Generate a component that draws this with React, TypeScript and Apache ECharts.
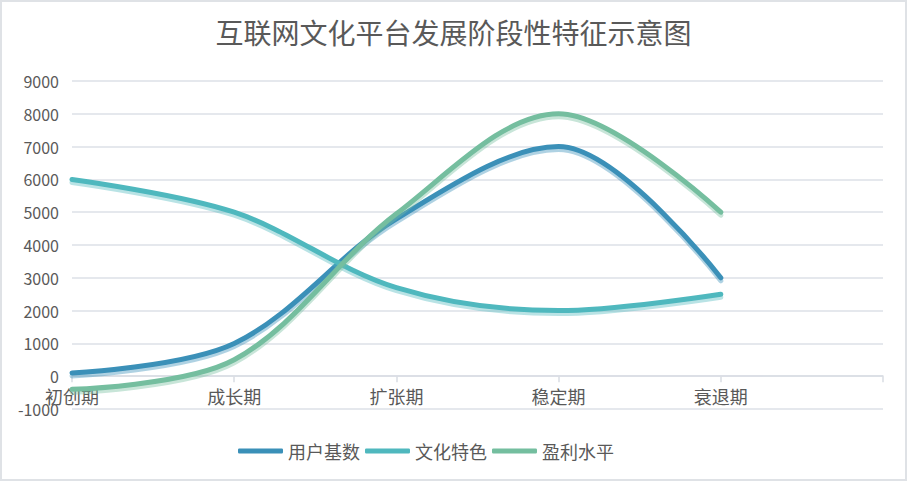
import React, { useEffect, useRef } from "react";
import * as echarts from "echarts";

const categories = ["初创期", "成长期", "扩张期", "稳定期", "衰退期", ""];
const userBase = [100, 1000, 4800, 7000, 3000];
const cultureFeature = [6000, 5000, 2700, 2000, 2500];
const profitLevel = [-400, 500, 4950, 8000, 5000];
const seriesNames = ["用户基数", "文化特色", "盈利水平"];
const yMin = -1000;
const yMax = 9000;
const yInterval = 1000;

const colors = ["#3a90b8", "#4fb8be", "#74be9f"];
const shadows = ["rgba(58,144,184,0.40)", "rgba(79,184,190,0.40)", "rgba(116,190,159,0.40)"];

export default function App() {
  const ref = useRef<HTMLDivElement>(null);
  useEffect(() => {
    document.body.style.margin = "0";
    const chart = echarts.init(ref.current!, null, { renderer: "svg" });
    const font = "'Noto Sans CJK SC', 'Noto Sans', sans-serif";
    const data = [userBase, cultureFeature, profitLevel];
    chart.setOption({
      animation: false,
      textStyle: { fontFamily: font },
      title: {
        text: "互联网文化平台发展阶段性特征示意图",
        left: "center",
        top: 13,
        textStyle: { fontSize: 28, fontWeight: "normal", color: "#595959", fontFamily: font },
      },
      legend: {
        left: 233,
        top: 437,
        itemWidth: 45,
        itemHeight: 5,
        itemGap: 5,
        icon: "roundRect",
        textStyle: { fontSize: 18, color: "#595959" },
        data: seriesNames,
      },
      grid: { left: 72, right: 24, top: 81, bottom: 72, containLabel: false },
      xAxis: {
        type: "category",
        data: categories,
        boundaryGap: false,
        axisLine: { onZero: true, lineStyle: { color: "#d9dde3", width: 1.5 } },
        axisTick: { show: true, length: 6, lineStyle: { color: "#d9dde3", width: 1.5 } },
        axisLabel: { interval: 0, fontSize: 18, color: "#595959", margin: -22 },
      },
      yAxis: {
        type: "value",
        min: yMin,
        max: yMax,
        interval: yInterval,
        axisLine: { show: false },
        axisTick: { show: false },
        axisLabel: {
          fontSize: 16,
          color: "#595959",
          margin: 13,
          formatter: (v: number) => String(v),
        },
        splitLine: { lineStyle: { color: "#dde1e7", width: 1.5 } },
      },
      series: seriesNames.map((name, i) => ({
        name,
        type: "line",
        data: data[i],
        smooth: 0.34,
        symbol: "none",
        color: colors[i],
        lineStyle: {
          width: 5,
          color: colors[i],
          shadowColor: shadows[i],
          shadowOffsetY: 3,
          shadowBlur: 0,
          cap: "round",
        },
      })),
    });
    return () => chart.dispose();
  }, []);
  return (
    <div
      style={{
        width: 907,
        height: 481,
        boxSizing: "border-box",
        border: "2px solid #dfe2e6",
        background: "#fff",
        position: "relative",
      }}
    >
      <div ref={ref} style={{ position: "absolute", left: -2, top: -2, width: 907, height: 481 }} />
    </div>
  );
}
